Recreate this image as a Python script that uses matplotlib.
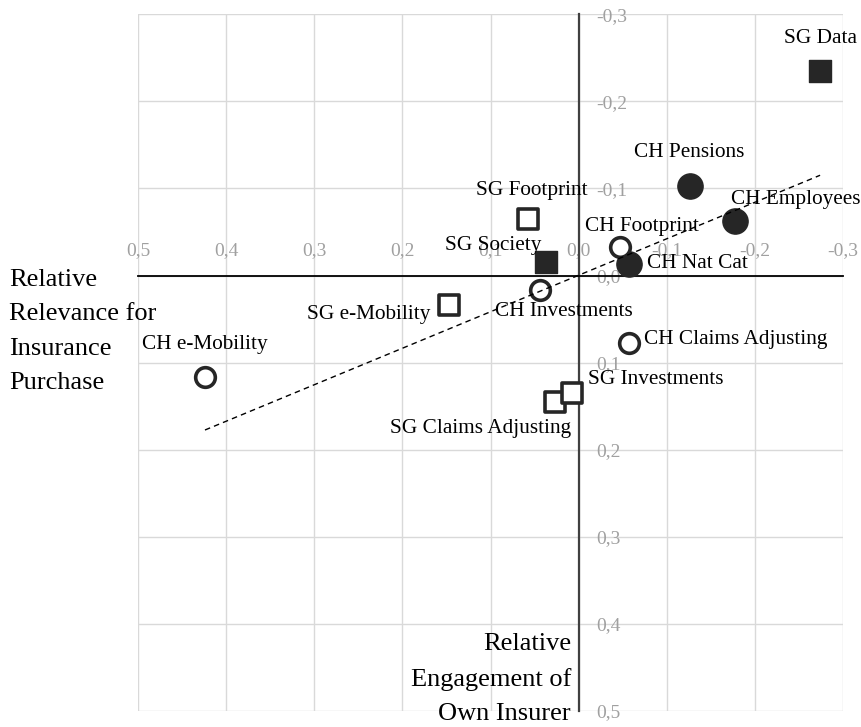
#!/usr/bin/env python3
"""Engagement vs. relevance quadrant chart for SG / CH topics."""

import matplotlib
matplotlib.use("Agg")
import matplotlib.pyplot as plt
import numpy as np
from matplotlib.ticker import FuncFormatter


# topic names and coordinates (x: relevance for purchase, y: engagement of own insurer)
NAMES = [
    "SG Data", "SG Society",
    "SG Footprint", "SG e-Mobility", "SG Claims Adjusting", "SG Investments",
    "CH Pensions", "CH Employees", "CH Nat Cat",
    "CH Footprint", "CH Investments", "CH e-Mobility", "CH Claims Adjusting",
]
X_VALUES = [
    -0.274, 0.037,
    0.057, 0.147, 0.027, 0.007,
    -0.126, -0.177, -0.057,
    -0.047, 0.0435, 0.424, -0.057,
]
Y_VALUES = [
    -0.235, -0.015,
    -0.065, 0.034, 0.145, 0.135,
    -0.103, -0.063, -0.013,
    -0.033, 0.0164, 0.117, 0.077,
]
GROUPS = [
    "sg_filled", "sg_filled",
    "sg_open", "sg_open", "sg_open", "sg_open",
    "ch_filled", "ch_filled", "ch_filled",
    "ch_open", "ch_open", "ch_open", "ch_open",
]

X_TICKS = [0.5, 0.4, 0.3, 0.2, 0.1, 0.0, -0.1, -0.2, -0.3]
Y_TICKS = [-0.3, -0.2, -0.1, 0.0, 0.1, 0.2, 0.3, 0.4, 0.5]

DARK = "#262626"
GROUP_STYLE = {
    "sg_filled": dict(marker="s", s=250, facecolor=DARK, edgecolor=DARK, linewidths=1.0),
    "sg_open": dict(marker="s", s=190, facecolor="white", edgecolor=DARK, linewidths=2.6),
    "ch_filled": dict(marker="o", s=330, facecolor=DARK, edgecolor=DARK, linewidths=1.0),
    "ch_open": dict(marker="o", s=200, facecolor="white", edgecolor=DARK, linewidths=2.6),
}

# label placement: (dx, dy) in pixels from the marker, horizontal alignment
LABEL_POS = {
    "SG Data": (0, 32, "center"),
    "SG Society": (-5, 17, "right"),
    "SG Footprint": (3, 28, "center"),
    "SG e-Mobility": (-19, -9, "right"),
    "SG Claims Adjusting": (16, -27, "right"),
    "SG Investments": (16, 14, "left"),
    "CH Pensions": (0, 33, "center"),
    "CH Employees": (-4, 21, "left"),
    "CH Nat Cat": (18, 1, "left"),
    "CH Footprint": (22, 20, "center"),
    "CH Investments": (24, -22, "center"),
    "CH e-Mobility": (0, 33, "center"),
    "CH Claims Adjusting": (15, 3, "left"),
}


def comma_fmt(value, _pos):
    if abs(value) < 1e-9:
        return "0,0"
    return f"{value:.1f}".replace(".", ",")


plt.rcParams["font.family"] = ["Liberation Serif", "DejaVu Serif"]

fig = plt.figure(figsize=(8.61, 7.27), dpi=100)
ax = fig.add_axes([138 / 861, 1 - 711 / 727, (843 - 138) / 861, (711 - 14.3) / 727])

ax.set_xlim(0.5, -0.3)
ax.set_ylim(0.5, -0.3)
ax.set_xticks(X_TICKS)
ax.set_yticks(Y_TICKS)
ax.xaxis.set_major_formatter(FuncFormatter(comma_fmt))
ax.yaxis.set_major_formatter(FuncFormatter(comma_fmt))

ax.spines["bottom"].set_visible(False)
ax.spines["left"].set_visible(False)
ax.spines["top"].set_position(("data", 0))
ax.spines["right"].set_position(("data", 0))
ax.spines["top"].set_color("black")
ax.spines["top"].set_linewidth(1.3)
ax.spines["right"].set_color("#404040")
ax.spines["right"].set_linewidth(1.6)
ax.xaxis.set_ticks_position("top")
ax.yaxis.set_ticks_position("right")
ax.tick_params(axis="x", length=0, pad=12, labelsize=14, labelcolor="#a0a0a0")
ax.tick_params(axis="y", length=0, pad=13, labelsize=14, labelcolor="#a0a0a0")
for label in ax.get_yticklabels():
    label.set_horizontalalignment("left")

ax.grid(True, color="#d9d9d9", linewidth=1.0)
ax.set_axisbelow(True)

x_arr = np.array(X_VALUES)
y_arr = np.array(Y_VALUES)
groups = np.array(GROUPS)
for group, style in GROUP_STYLE.items():
    mask = groups == group
    ax.scatter(x_arr[mask], y_arr[mask], zorder=4, clip_on=False, **style)

# linear trendline over all topics
slope, intercept = np.polyfit(x_arr, y_arr, 1)
x_line = np.array([x_arr.max(), x_arr.min()])
ax.plot(x_line, slope * x_line + intercept, color="black", linewidth=1.0,
        linestyle=(0, (4, 3)), zorder=5)

for name, x, y in zip(NAMES, X_VALUES, Y_VALUES):
    dx, dy, ha = LABEL_POS[name]
    ax.annotate(name, (x, y), xytext=(dx, dy), textcoords="offset pixels",
                ha=ha, va="center", fontsize=15.3, color="black", zorder=6)

fig.text(9 / 861, 1 - 331.5 / 727, "Relative\nRelevance for\nInsurance\nPurchase",
         ha="left", va="center", fontsize=19, linespacing=1.72)
fig.text(571 / 861, 1 - 679 / 727, "Relative\nEngagement of\nOwn Insurer",
         ha="right", va="center", fontsize=19, linespacing=1.72, multialignment="right")

fig.savefig("out.png", dpi=100)
